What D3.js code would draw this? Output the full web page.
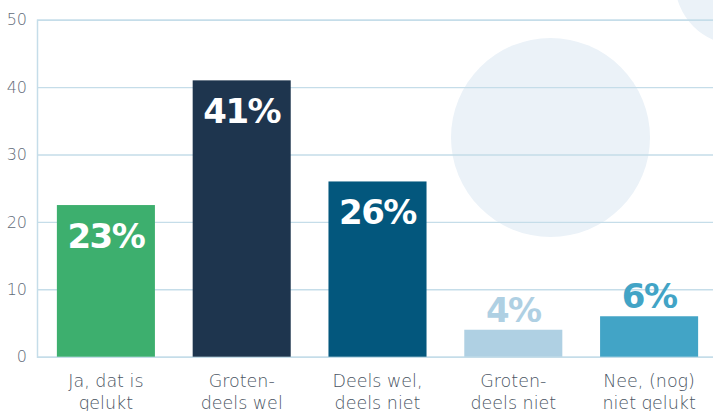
<!DOCTYPE html>
<html>
<head>
<meta charset="utf-8">
<script src="https://cdn.jsdelivr.net/npm/d3@7"></script>
<style>
  body { margin: 0; background: #fff; }
  svg { display: block; }
</style>
</head>
<body>
<div id="chart"></div>
<script>
// data
var categories = [['Ja, dat is', 'gelukt'], ['Groten-', 'deels wel'], ['Deels wel,', 'deels niet'], ['Groten-', 'deels niet'], ['Nee, (nog)', 'niet gelukt']];
var values = [22.5, 41, 26, 4, 6];
var valueLabels = ['23%', '41%', '26%', '4%', '6%'];
var barColors = ['#3daf6e', '#1e354e', '#03577d', '#afd0e3', '#42a4c6'];
var yTicks = [0, 10, 20, 30, 40, 50];

var width = 713, height = 411;
// plot area (window.top is reserved, so prefix these)
var plotLeft = 37, plotRight = 717, plotTop = 19.7, plotBottom = 356.7;

var svg = d3.select('#chart').append('svg')
            .attr('width', width)
            .attr('height', height);

// decorative circles in the background
svg.append('circle')
   .attr('cx', 550.5).attr('cy', 137.5).attr('r', 99.5)
   .attr('fill', '#ebf2f8');
svg.append('circle')
   .attr('cx', 738).attr('cy', -18).attr('r', 63)
   .attr('fill', '#ebf2f8');

var x = d3.scaleBand()
          .domain(d3.range(values.length))
          .range([plotLeft + 1, plotRight])
          .paddingInner(0.278)
          .paddingOuter(0.139);

var y = d3.scaleLinear().domain([0, 50]).range([plotBottom, plotTop]);

// grid lines + y axis
var yAxis = svg.append('g')
               .attr('transform', 'translate(' + plotLeft + ',0)')
               .call(d3.axisLeft(y).tickValues(yTicks).tickSize(-(width - plotLeft)).tickPadding(10));
yAxis.select('.domain').attr('stroke', '#c5dde9').attr('stroke-width', 1.5);
yAxis.selectAll('.tick line').attr('stroke', '#c5dde9').attr('stroke-width', 1.4);
yAxis.selectAll('.tick text')
     .attr('fill', '#5f6b78')
     .style('font-family', '"DejaVu Sans", sans-serif')
     .style('font-weight', 300)
     .style('font-size', '16px');

// bars
svg.selectAll('.bar')
   .data(values)
   .enter().append('rect')
   .attr('class', 'bar')
   .attr('x', function(d, i) { return x(i); })
   .attr('width', x.bandwidth())
   .attr('y', function(d) { return y(d); })
   .attr('height', function(d) { return plotBottom - y(d); })
   .attr('fill', function(d, i) { return barColors[i]; });

// value labels: inside big bars, above small ones
svg.selectAll('.val')
   .data(values)
   .enter().append('text')
   .attr('class', 'val')
   .attr('x', function(d, i) { return x(i) + x.bandwidth() / 2; })
   .attr('y', function(d) { return d > 10 ? y(d) + 43 : y(d) - 8; })
   .attr('text-anchor', 'middle')
   .attr('fill', function(d, i) { return d > 10 ? '#fff' : barColors[i]; })
   .style('font-family', '"DejaVu Sans", sans-serif')
   .style('font-weight', 'bold')
   .style('font-size', '34px')
   .style('letter-spacing', '-1.5px')
   .text(function(d, i) { return valueLabels[i]; });

// category labels (two lines)
var cat = svg.selectAll('.cat')
             .data(categories)
             .enter().append('text')
             .attr('class', 'cat')
             .attr('text-anchor', 'middle')
             .attr('fill', '#4a5563')
             .style('font-family', '"DejaVu Sans", sans-serif')
             .style('font-weight', 300)
             .style('font-size', '17.5px');
cat.selectAll('tspan')
   .data(function(d, i) { return d.map(function(s) { return {s: s, i: i}; }); })
   .enter().append('tspan')
   .attr('x', function(d) { return x(d.i) + x.bandwidth() / 2; })
   .attr('y', function(d, j) { return 387 + j * 22; })
   .text(function(d) { return d.s; });
</script>
</body>
</html>
